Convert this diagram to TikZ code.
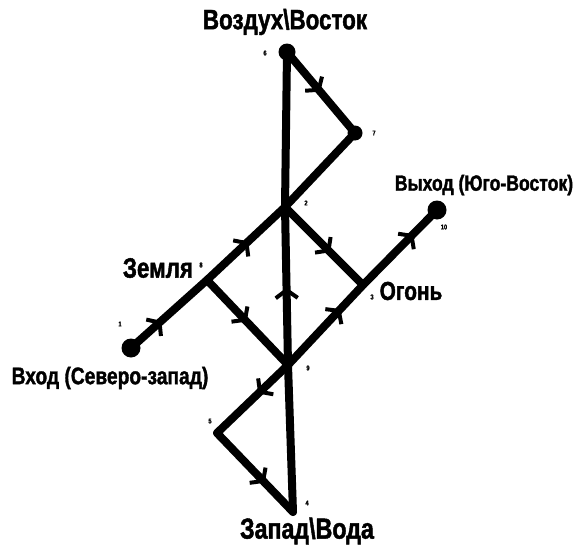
\documentclass[tikz,border=0pt]{standalone}
\usepackage{fontspec}
\setmainfont{Liberation Sans}[FakeStretch=0.8, FakeBold=1.5]
\usetikzlibrary{arrows.meta, decorations.markings}

\begin{document}
\begin{tikzpicture}[
  x=1pt, y=-1pt,
  line width=8pt, line cap=round, line join=round,
  path/.style={draw=black},
  flow/.style={path, postaction={decorate}, decoration={markings,
    mark=at position #1 with {\arrow[line width=4pt]{Straight Barb[length=8pt, width=22pt]}}}},
  dot/.style={circle, fill=black, inner sep=0pt, minimum size=#1},
  place/.style={font=\fontsize{#1}{#1}\selectfont\bfseries, inner sep=0pt},
  num/.style={font=\fontsize{7}{7}\selectfont\bfseries, inner sep=0pt}
]
\useasboundingbox (0,0) rectangle (584,546);

% Nodes
\node (p1) [dot=19pt] at (131,348) {};
\coordinate (p8) at (207,280);
\coordinate (p2) at (285,207);
\node (p7) [dot=15pt] at (355,133) {};
\node (p6) [dot=17pt] at (287,52) {};
\coordinate (p3) at (363,285);
\node (p10) [dot=19pt] at (437,210) {};
\coordinate (p9) at (288,365);
\coordinate (p5) at (217,433);
\coordinate (p4) at (293,512);

% Labels
\node [place=28] at (285,22) {Воздух\textbackslash Восток};
\node [place=24] at (110,378) {Вход (Северо-запад)};
\node [place=22] at (484,185) {Выход (Юго-Восток)};
\node [place=28] at (158,268) {Земля};
\node [place=26] at (411,291) {Огонь};
\node [place=29] at (307,531) {Запад\textbackslash Вода};

\node [num] at (120,324) {1};
\node [num] at (306,203) {2};
\node [num] at (372,297) {3};
\node [num] at (307,503) {4};
\node [num] at (210,421) {5};
\node [num] at (265,53) {6};
\node [num] at (374,133) {7};
\node [num] at (201,265) {8};
\node [num] at (308,368) {9};
\node [num] at (444,227) {10};

% Arrows
\draw [flow=0.4] (p1.center) -- (p8);
\draw [flow=0.53] (p8) -- (p2);
\draw [path] (p2) -- (p7.center);
\draw [flow=0.49] (p6.center) -- (p7.center);
\draw [path] (p6.center) -- (p2);
\draw [flow=0.58] (p2) -- (p3);
\draw [flow=0.49] (p8) -- (p9);
\draw [flow=0.49] (p9) -- (p2);
\draw [path] (p9) -- (p4);
\draw [flow=0.42] (p9) -- (p5);
\draw [flow=0.63] (p5) -- (p4);
\draw [flow=0.7] (p9) -- (p3);
\draw [flow=0.68] (p3) -- (p10.center);

\end{tikzpicture}
\end{document}
